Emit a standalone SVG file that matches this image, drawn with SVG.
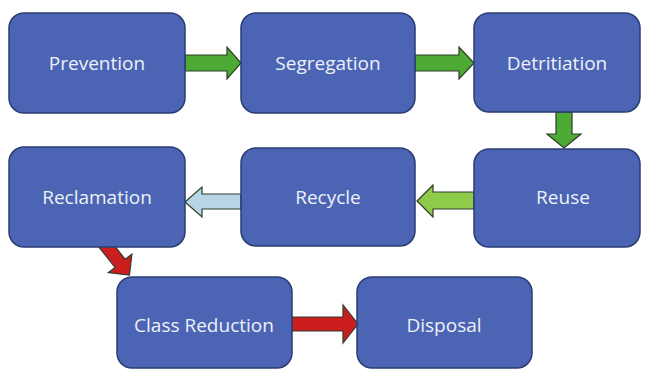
<svg xmlns="http://www.w3.org/2000/svg" width="646" height="370" viewBox="0 0 646 370">
<style>
.box{fill:#4b64b3;stroke:#2b3c73;stroke-width:1.5}
.lbl{font-family:"Open Sans","Noto Sans",sans-serif;font-size:19px;fill:#eef1f8;text-anchor:middle}
.arr{stroke:#2e3d2a;stroke-width:1.2;stroke-linejoin:miter}
.g{fill:#4caa35}
.lg{fill:#8fcb4a}
.lb{fill:#b9d4e6}
.r{fill:#cc1e1e}
</style>
<rect width="646" height="370" fill="#ffffff"/>
<g id="connectors">
<path class="arr g" d="M185,55 H227 V47 L241,63 L227,79 V71 H185 Z"/>
<path class="arr g" d="M415,55 H459 V47 L474,63 L459,79 V71 H415 Z"/>
<path class="arr g" d="M556,112 H572 V134 H581 L564,148 L547,134 H556 Z"/>
<path class="arr lg" d="M474,192 H433 V185 L417,201 L433,217 V209 H474 Z"/>
<path class="arr lb" d="M241,194 H202 V187 L185,202 L202,217 V209 H241 Z"/>
<path class="arr r" transform="translate(104,243) rotate(51.6)" d="M0,-6.5 H26 V-15 L41,0 L26,15 V6.5 H0 Z"/>
<path class="arr r" d="M292,317 H343 V305 L358,324 L343,343 V331 H292 Z"/>
</g>
<g id="prevention"><rect class="box" x="9" y="13" width="176" height="100" rx="15"/><text class="lbl" x="97" y="70">Prevention</text></g>
<g id="segregation"><rect class="box" x="241" y="13" width="174" height="100" rx="15"/><text class="lbl" x="328" y="70">Segregation</text></g>
<g id="detritiation"><rect class="box" x="474" y="13" width="166" height="99" rx="15"/><text class="lbl" x="557" y="70">Detritiation</text></g>
<g id="reuse"><rect class="box" x="474" y="149" width="166" height="98" rx="15"/><text class="lbl" x="563" y="204">Reuse</text></g>
<g id="recycle"><rect class="box" x="241" y="148" width="174" height="98" rx="15"/><text class="lbl" x="328" y="204">Recycle</text></g>
<g id="reclamation"><rect class="box" x="9" y="147" width="176" height="100" rx="15"/><text class="lbl" x="97" y="204">Reclamation</text></g>
<g id="class-reduction"><rect class="box" x="117" y="277" width="175" height="91" rx="15"/><text class="lbl" x="204" y="332">Class Reduction</text></g>
<g id="disposal"><rect class="box" x="357" y="277" width="175" height="91" rx="15"/><text class="lbl" x="444" y="332">Disposal</text></g>
</svg>
